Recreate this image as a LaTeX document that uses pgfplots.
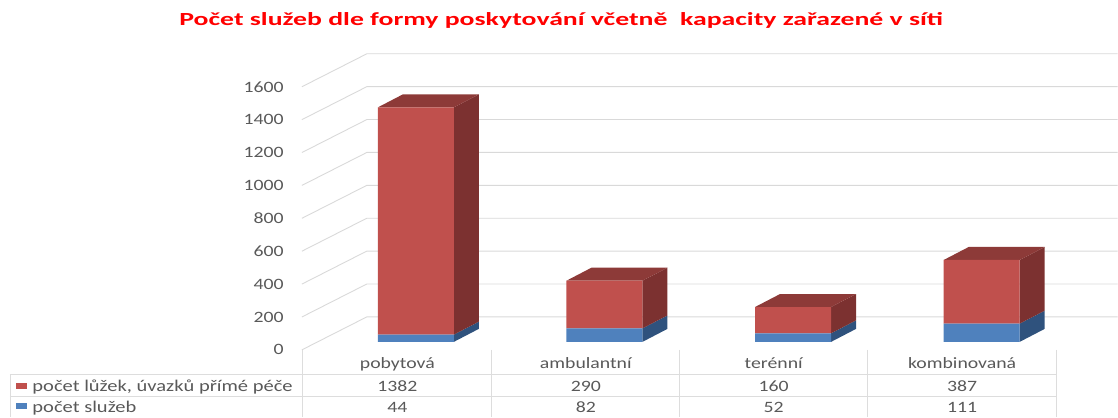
\documentclass[border=0pt]{standalone}
\usepackage{fontspec}
\setmainfont{Carlito}[FakeStretch=1.25]
\newfontfamily\titlefont{Carlito}[FakeStretch=1.5]
\usepackage{pgfplots}
\pgfplotsset{compat=1.18}
\definecolor{redF}{HTML}{C0504D}
\definecolor{redS}{HTML}{7C3130}
\definecolor{redT}{HTML}{8D3A38}
\definecolor{blueF}{HTML}{4F81BD}
\definecolor{blueS}{HTML}{2F527D}
\definecolor{gridc}{HTML}{D9D9D9}
\definecolor{tablec}{HTML}{DDDDDD}
\definecolor{txt}{HTML}{595959}
\pgfplotsset{
  common/.style={at={(0pt,0pt)}, anchor=south west,
    x=188.7pt, y=0.1645pt,
    xmin=-2.2046, xmax=3.7202, ymin=-455.9, ymax=2079}
}
\newcommand\gl[2]{\draw[gridc, line width=0.9pt] (axis cs:-0.604,#1) -- (axis cs:-0.2597,#2) -- (axis cs:3.7202,#2);}
\begin{document}
\begin{tikzpicture}
\path (0pt,0pt) rectangle (1118pt,417pt);
% ---------- background axis: walls, ticks, depth faces ----------
\begin{axis}[at={(284pt,0pt)}, anchor=south west,
  x=188.7pt, y=0.1645pt,
  xmin=-0.6995, xmax=3.7202, ymin=-455.9, ymax=2079,
  clip=false,
  axis line style={draw=none}, major tick length=0pt,
  xtick=\empty,
  ytick={-48.6,151.4,351.4,551.4,751.4,951.4,1151.4,1351.4,1551.4},
  yticklabels={0,200,400,600,800,1000,1200,1400,1600},
  yticklabel style={anchor=east, inner sep=0pt,
    font=\fontsize{15.8}{18}\selectfont, text=txt},
  /pgf/number format/assume math mode=true]
\gl{-48.6}{152}
\gl{151.4}{352}
\gl{351.4}{552}
\gl{551.4}{752}
\gl{751.4}{952}
\gl{951.4}{1152}
\gl{1151.4}{1352}
\gl{1351.4}{1552}
\gl{1551.4}{1752}
% side faces, blue segments
\addplot[fill=blueS, draw=none] coordinates {(0.2015,0) (0.334,79) (0.334,123) (0.2015,44)};
\addplot[fill=blueS, draw=none] coordinates {(1.2015,0) (1.334,79) (1.334,161) (1.2015,82)};
\addplot[fill=blueS, draw=none] coordinates {(2.2015,0) (2.334,79) (2.334,131) (2.2015,52)};
\addplot[fill=blueS, draw=none] coordinates {(3.2015,0) (3.334,79) (3.334,190) (3.2015,111)};
% side faces, red segments
\addplot[fill=redS, draw=none] coordinates {(0.2015,44) (0.334,123) (0.334,1505) (0.2015,1426)};
\addplot[fill=redS, draw=none] coordinates {(1.2015,82) (1.334,161) (1.334,451) (1.2015,372)};
\addplot[fill=redS, draw=none] coordinates {(2.2015,52) (2.334,131) (2.334,291) (2.2015,212)};
\addplot[fill=redS, draw=none] coordinates {(3.2015,111) (3.334,190) (3.334,577) (3.2015,498)};
% top faces
\addplot[fill=redT, draw=none] coordinates {(-0.2015,1426) (-0.069,1505) (0.334,1505) (0.2015,1426)};
\addplot[fill=redT, draw=none] coordinates {(0.7985,372) (0.931,451) (1.334,451) (1.2015,372)};
\addplot[fill=redT, draw=none] coordinates {(1.7985,212) (1.931,291) (2.334,291) (2.2015,212)};
\addplot[fill=redT, draw=none] coordinates {(2.7985,498) (2.931,577) (3.334,577) (3.2015,498)};
\end{axis}
% ---------- front faces: stacked bars ----------
\begin{axis}[common, hide axis, ybar stacked, bar width=0.403]
\addplot[fill=blueF, draw=none] coordinates {(0,44) (1,82) (2,52) (3,111)};
\addplot[fill=redF, draw=none] coordinates {(0,1382) (1,290) (2,160) (3,387)};
\end{axis}
% ---------- title and data table ----------
\begin{scope}[x=1pt, y=1pt]
\node[anchor=base, inner sep=0pt, text=red, font=\titlefont\bfseries\fontsize{18.5}{21}\selectfont]
  at (561.5,391.3) {Počet služeb dle formy poskytování včetně~ kapacity zařazené v síti};
\draw[tablec, line width=0.9pt] (10,42) -- (1057,42);
\draw[tablec, line width=0.9pt] (10,20) -- (1057,20);
\draw[tablec, line width=0.9pt] (10,42) -- (10,0);
\foreach \xx in {303,492,680,868,1057}{
  \draw[tablec, line width=0.9pt] (\xx,67) -- (\xx,0);
}
\foreach \xx/\lab in {397.5/pobytová,586/ambulantní,774/terénní,962.5/kombinovaná}{
  \node[anchor=base, inner sep=0pt, text=txt, font=\fontsize{15.8}{18}\selectfont] at (\xx,48) {\lab};
}
\foreach \xx/\lab in {397.5/1382,586/290,774/160,962.5/387}{
  \node[anchor=base, inner sep=0pt, text=txt, font=\fontsize{15.8}{18}\selectfont] at (\xx,25.5) {\lab};
}
\foreach \xx/\lab in {397.5/44,586/82,774/52,962.5/111}{
  \node[anchor=base, inner sep=0pt, text=txt, font=\fontsize{15.8}{18}\selectfont] at (\xx,4) {\lab};
}
\fill[redF] (15.7,27.7) rectangle (26.7,33.7);
\fill[blueF] (15.7,8) rectangle (26.7,14.3);
\node[anchor=base west, inner sep=0pt, text=txt, font=\fontsize{16.4}{18}\selectfont] at (32.3,25.5) {počet lůžek, úvazků přímé péče};
\node[anchor=base west, inner sep=0pt, text=txt, font=\fontsize{16.4}{18}\selectfont] at (32.3,4) {počet služeb};
\end{scope}
\end{tikzpicture}
\end{document}
